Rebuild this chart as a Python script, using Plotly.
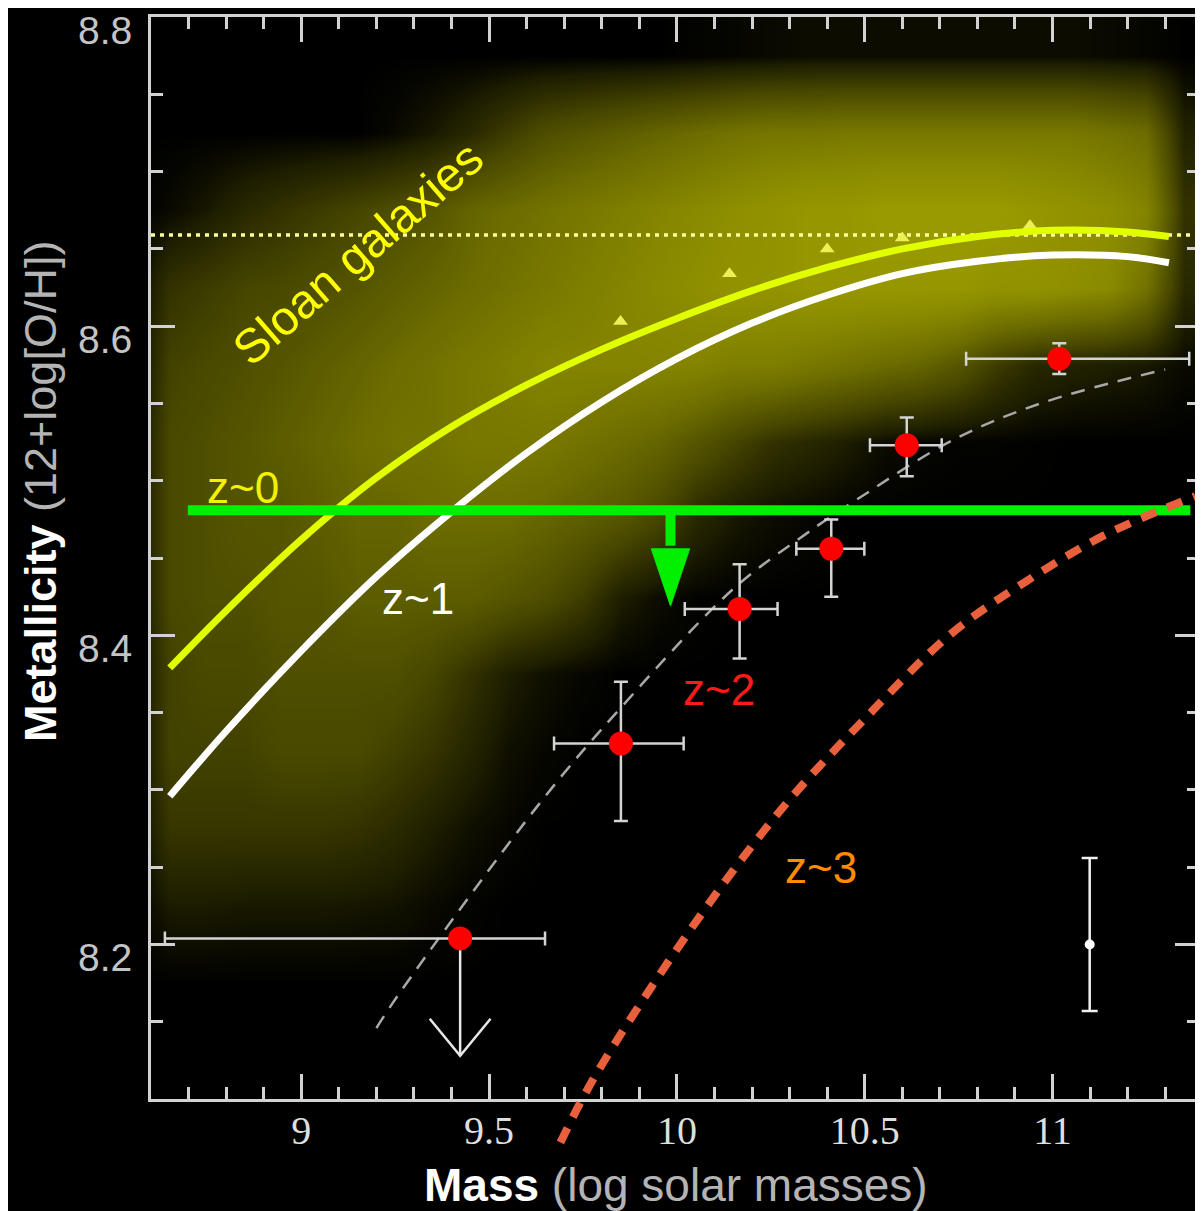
import plotly.graph_objects as go

# ---------------- page / figure geometry (page pixels) ----------------
PAGE_W, PAGE_H = 1203, 1211
PAGE_MARGIN = 8                      # default <body> margin of the html page
FIG_W, FIG_H = PAGE_W - PAGE_MARGIN, PAGE_H - PAGE_MARGIN
PLOT_LEFT, PLOT_RIGHT, PLOT_TOP, PLOT_BOTTOM = 151, 1202, 14, 1099
PAPER_BOTTOM = 1161                  # extended paper (lets the z~3 curve run below the frame)
ML = PLOT_LEFT - PAGE_MARGIN
MT = PLOT_TOP - PAGE_MARGIN
MR = PAGE_W - PLOT_RIGHT
MB = PAGE_H - PAPER_BOTTOM

X_RANGE = [8.6, 11.39]
Y_RANGE = [8.1, 8.8]

# ---------------- data ----------------
# SDSS (Sloan) galaxy cloud: relative point density (0-10)
sdss_mass_bins = [8.55, 8.65, 8.75, 8.85, 8.95, 9.05, 9.15, 9.25, 9.35, 9.45, 9.55,
                  9.65, 9.75, 9.85, 9.95, 10.05, 10.15, 10.25, 10.35, 10.45, 10.55,
                  10.65, 10.75, 10.85, 10.95, 11.05, 11.15, 11.25, 11.35]
sdss_met_bins = [8.125, 8.175, 8.225, 8.275, 8.325, 8.375, 8.425,
                 8.475, 8.525, 8.575, 8.625, 8.675, 8.725, 8.775]
sdss_density = [
    [0, 0, 0, 0, 0, 0, 0, 0, 0, 0, 0, 0, 0, 0, 0, 0, 0, 0, 0, 0, 0, 0, 0, 0, 0, 0, 0, 0, 0],
    [0, 0, 0, 0, 0, 0, 0, 0, 0, 0, 0, 0, 0, 0, 0, 0, 0, 0, 0, 0, 0, 0, 0, 0, 0, 0, 0, 0, 0],
    [0, 0.9, 0.9, 0.8, 0.8, 0.8, 0.7, 0.6, 0.3, 0.1, 0, 0, 0, 0, 0, 0, 0, 0, 0, 0, 0, 0, 0, 0, 0, 0, 0, 0, 0],
    [0, 2.2, 2.2, 2.2, 2.2, 2.2, 2, 1.6, 1, 0.5, 0.2, 0, 0, 0, 0, 0, 0, 0, 0, 0, 0, 0, 0, 0, 0, 0, 0, 0, 0],
    [0, 2.8, 2.8, 2.8, 3.2, 3.2, 3.2, 2.7, 2.1, 1.3, 0.5, 0.2, 0, 0, 0, 0, 0, 0, 0, 0, 0, 0, 0, 0, 0, 0, 0, 0, 0],
    [0, 2.8, 3.2, 3.2, 3.6, 3.6, 3.6, 3.6, 3, 2, 1, 0.5, 0.2, 0, 0, 0, 0, 0, 0, 0, 0, 0, 0, 0, 0, 0, 0, 0, 0],
    [0, 3.2, 3.6, 3.6, 4, 4, 4.5, 4.5, 4.5, 4.5, 4, 3.5, 2.5, 1, 0.4, 0.1, 0, 0, 0, 0, 0, 0, 0, 0, 0, 0, 0, 0, 0],
    [0, 3.2, 3.6, 4, 4, 4.5, 5, 5, 5.5, 5.5, 5.5, 5, 4.5, 4, 3, 1.5, 0.8, 0.4, 0.2, 0, 0, 0, 0, 0, 0, 0, 0, 0, 0],
    [0, 3.2, 3.6, 4, 4.5, 5, 5.5, 6, 6, 6.5, 6.5, 6.5, 6, 5.5, 5, 4, 3, 2, 1.5, 1, 0.4, 0.2, 0.1, 0.1, 0.05, 0, 0, 0, 0],
    [0, 2.8, 3.2, 3.6, 4, 4.5, 5, 5.5, 6, 6.5, 7, 7.5, 7.5, 7.5, 7.5, 7.5, 7, 7, 6.5, 6, 5.5, 5, 4, 2.5, 1.5, 1.2, 1, 0.8, 0.3],
    [0, 2, 2.5, 3, 3.2, 3.6, 4, 4.5, 5, 5.5, 6, 6.5, 7, 7.5, 8, 8.5, 9, 9, 9.5, 9.5, 9.5, 9.5, 9.5, 9, 9, 8.5, 8, 6, 1.5],
    [0, 0.3, 0.8, 1.5, 2, 2.5, 3, 3.5, 4, 5, 5.5, 6, 6.5, 7, 7.5, 8, 8.5, 9, 9.5, 9.5, 10, 10, 10, 10, 9.5, 9, 8.5, 7.5, 2],
    [0, 0, 0, 0, 0, 0, 0, 0.3, 0.8, 1.5, 2.5, 3.5, 4, 4.5, 5, 5.5, 6, 6.3, 6.3, 6.5, 6.5, 6.5, 6.5, 6.5, 6.5, 6.5, 6, 5.5, 1.2],
    [0, 0, 0, 0, 0, 0, 0, 0, 0, 0, 0, 0, 0, 0, 0, 0.1, 0.2, 0.3, 0.4, 0.4, 0.4, 0.4, 0.4, 0.4, 0.4, 0.4, 0.3, 0.2, 0],
]

# SDSS binned medians (small triangles) and the solar reference (dotted line)
sdss_median_mass = [9.85, 10.14, 10.40, 10.60, 10.94]
sdss_median_met = [8.603, 8.634, 8.650, 8.657, 8.665]
solar_met = 8.659

# z~0 and z~1 relations
z0_mass = [8.65, 8.80, 9.00, 9.20, 9.40, 9.60, 9.80, 10.00, 10.20, 10.40, 10.60, 10.80, 11.00, 11.20, 11.31]
z0_met = [8.379, 8.416, 8.462, 8.502, 8.535, 8.562, 8.585, 8.605, 8.623, 8.638, 8.650, 8.658, 8.662, 8.661, 8.658]
z1_mass = [8.65, 8.80, 9.00, 9.20, 9.40, 9.60, 9.80, 10.00, 10.20, 10.40, 10.60, 10.80, 11.00, 11.20, 11.31]
z1_met = [8.296, 8.338, 8.390, 8.438, 8.480, 8.518, 8.551, 8.579, 8.602, 8.620, 8.634, 8.642, 8.646, 8.645, 8.641]

# z~2 fit (grey dashed) and z~3 relation (orange dashed)
z2fit_mass = [9.20, 9.26, 9.64, 9.85, 10.15, 10.34, 10.48, 10.74, 10.98, 11.30]
z2fit_met = [8.146, 8.168, 8.293, 8.353, 8.430, 8.465, 8.488, 8.527, 8.551, 8.572]
z3_mass = [9.69, 9.78, 10.04, 10.28, 10.50, 10.73, 10.93, 11.14, 11.38]
z3_met = [8.072, 8.114, 8.211, 8.288, 8.346, 8.401, 8.435, 8.465, 8.490]

# z~2 stacked measurements (red)
z2_mass = [9.423, 9.851, 10.167, 10.411, 10.612, 11.018]
z2_met = [8.204, 8.330, 8.417, 8.456, 8.523, 8.579]
z2_mass_err_lo = [0.786, 0.178, 0.146, 0.093, 0.098, 0.248]
z2_mass_err_hi = [0.226, 0.167, 0.101, 0.088, 0.093, 0.346]
z2_met_err_lo = [0.0, 0.050, 0.032, 0.031, 0.020, 0.010]
z2_met_err_hi = [0.0, 0.040, 0.029, 0.019, 0.018, 0.010]
# upper limit on the lowest-mass bin
z2_limit_mass = 9.423
z2_limit_from = 8.204
z2_limit_to = 8.128

# typical error bar (white)
typ_mass = [11.099]
typ_met = [8.200]
typ_err_hi = [0.056]
typ_err_lo = [0.043]

# green upper-limit line with arrow
green_met = 8.481
green_mass_span = [8.698, 11.367]
green_arrow_mass = 9.983
green_arrow_tip = 8.419

# axis ticks
x_tick_vals = [9, 9.5, 10, 10.5, 11]
x_tick_text = ["9", "9.5", "10", "10.5", "11"]
y_tick_vals = [8.2, 8.4, 8.6, 8.8]
y_tick_text = ["8.2", "8.4", "8.6", "8.8"]

# ---------------- styles ----------------
FRAME = "#d2d2d2"
GREEN = "#00f000"
SANS = "Liberation Sans, Arial, sans-serif"
SERIF = "Liberation Serif, Times New Roman, serif"
GREEN_HEAD_HALF_W = 0.051   # mass units
GREEN_HEAD_LEN = 0.037      # metallicity units
V_HEAD_HALF_W = 0.081
V_HEAD_LEN = 0.024

paper_h = PAPER_BOTTOM - PLOT_TOP
y_dom0 = (PAPER_BOTTOM - PLOT_BOTTOM) / paper_h
y2_lo = Y_RANGE[0] - (Y_RANGE[1] - Y_RANGE[0]) * y_dom0 / (1 - y_dom0)


def px_to_paper_x(px):
    return (px - PLOT_LEFT) / (PLOT_RIGHT - PLOT_LEFT)


def px_to_paper_y(py):
    return (PAPER_BOTTOM - py) / paper_h


fig = go.Figure()

fig.add_trace(go.Heatmap(
    x=sdss_mass_bins, y=sdss_met_bins, z=sdss_density,
    zmin=0, zmax=10, zsmooth="best", showscale=False, hoverinfo="skip",
    colorscale=[[0.0, "#000000"], [0.1, "#1e1e00"], [0.3, "#464600"],
                [0.55, "#6c6c00"], [0.8, "#8a8a00"], [1.0, "#9a9a00"]],
))

fig.add_trace(go.Scatter(
    x=X_RANGE, y=[solar_met, solar_met], mode="lines",
    line=dict(color="#ffff99", width=3.5, dash="4px,5px"), hoverinfo="skip"))

fig.add_trace(go.Scatter(
    x=sdss_median_mass, y=sdss_median_met, mode="markers",
    marker=dict(symbol="triangle-up", size=13, color="#eeee55"), hoverinfo="skip"))

fig.add_trace(go.Scatter(
    x=z0_mass, y=z0_met, mode="lines", line=dict(color="#e2ff00", width=7, shape="spline")))
fig.add_trace(go.Scatter(
    x=z1_mass, y=z1_met, mode="lines", line=dict(color="#ffffff", width=7, shape="spline")))
fig.add_trace(go.Scatter(
    x=z2fit_mass, y=z2fit_met, mode="lines",
    line=dict(color="#a8a8a8", width=2.5, dash="14px,10px", shape="spline")))

# green limit line and arrow
fig.add_trace(go.Scatter(
    x=green_mass_span, y=[green_met, green_met], mode="lines",
    line=dict(color=GREEN, width=10)))
head_base = green_arrow_tip + GREEN_HEAD_LEN
fig.add_trace(go.Scatter(
    x=[green_arrow_mass, green_arrow_mass], y=[green_met, head_base + 0.002], mode="lines",
    line=dict(color=GREEN, width=10)))
fig.add_trace(go.Scatter(
    x=[green_arrow_mass - GREEN_HEAD_HALF_W, green_arrow_mass + GREEN_HEAD_HALF_W, green_arrow_mass,
       green_arrow_mass - GREEN_HEAD_HALF_W],
    y=[head_base, head_base, green_arrow_tip, head_base],
    mode="lines", fill="toself", fillcolor=GREEN, line=dict(color=GREEN, width=1)))

# upper-limit arrow for lowest-mass z~2 point
fig.add_trace(go.Scatter(
    x=[z2_limit_mass, z2_limit_mass, None,
       z2_limit_mass - V_HEAD_HALF_W, z2_limit_mass, z2_limit_mass + V_HEAD_HALF_W],
    y=[z2_limit_from, z2_limit_to, None,
       z2_limit_to + V_HEAD_LEN, z2_limit_to, z2_limit_to + V_HEAD_LEN],
    mode="lines", line=dict(color="#e6e6e6", width=2.5)))

# z~2 points
fig.add_trace(go.Scatter(
    x=z2_mass, y=z2_met, mode="markers",
    marker=dict(color="#ff0000", size=24),
    error_x=dict(type="data", symmetric=False, array=z2_mass_err_hi, arrayminus=z2_mass_err_lo,
                 color="#d4d4d4", thickness=2.5, width=7),
    error_y=dict(type="data", symmetric=False, array=z2_met_err_hi, arrayminus=z2_met_err_lo,
                 color="#d4d4d4", thickness=2.5, width=7)))

# typical error
fig.add_trace(go.Scatter(
    x=typ_mass, y=typ_met, mode="markers", marker=dict(color="#ffffff", size=10),
    error_y=dict(type="data", symmetric=False, array=typ_err_hi, arrayminus=typ_err_lo,
                 color="#f0f0f0", thickness=2.5, width=8)))

# z~3 relation on an extended (invisible) y axis so it can run below the frame
fig.add_trace(go.Scatter(
    x=z3_mass, y=z3_met, mode="lines", xaxis="x", yaxis="y2",
    line=dict(color="#e8603c", width=8, dash="16px,12px", shape="spline")))

axis_common = dict(
    showline=True, linecolor=FRAME, linewidth=3, mirror="ticks",
    ticks="inside", tickcolor=FRAME, tickwidth=3,
    showgrid=False, zeroline=False,
)

fig.update_layout(
    width=FIG_W, height=FIG_H,
    margin=dict(l=ML, r=MR, t=MT, b=MB, pad=0),
    paper_bgcolor="#000000", plot_bgcolor="rgba(0,0,0,0)",
    showlegend=False,
    xaxis=dict(range=X_RANGE, domain=[0, 1], anchor="y",
               tickmode="array", tickvals=x_tick_vals, ticktext=x_tick_text, ticklen=25,
               tickfont=dict(family=SERIF, size=40, color="#dedede"),
               ticklabelstandoff=-6,
               minor=dict(dtick=0.1, tick0=9, ticks="inside", ticklen=12, tickwidth=3,
                          tickcolor=FRAME, showgrid=False),
               **axis_common),
    yaxis=dict(range=Y_RANGE, domain=[y_dom0, 1], anchor="x",
               tickmode="array", tickvals=y_tick_vals, ticktext=y_tick_text, ticklen=24,
               tickfont=dict(family=SANS, size=39, color="#c4c4c4"),
               ticklabelposition="outside", ticklabelstandoff=8, ticklabelshift=13,
               ticklabeloverflow="allow",
               minor=dict(dtick=0.05, tick0=8.1, ticks="inside", ticklen=12, tickwidth=3,
                          tickcolor=FRAME, showgrid=False),
               **axis_common),
    yaxis2=dict(range=[y2_lo, Y_RANGE[1]], domain=[0, 1], anchor="x", visible=False),
)

annots = [
    dict(text="<b>Mass</b> <span style='color:#b4b4b4'>(log solar masses)</span>",
         x=px_to_paper_x(678), y=px_to_paper_y(1185), xref="paper", yref="paper",
         font=dict(family=SANS, size=46, color="#ffffff")),
    dict(text="<b>Metallicity</b> <span style='color:#b4b4b4'>(12+log[O/H])</span>",
         x=px_to_paper_x(40), y=px_to_paper_y(490), xref="paper", yref="paper", textangle=-90,
         font=dict(family=SANS, size=45, color="#ffffff")),
    dict(text="z~0", x=8.844, y=8.4955, xref="x", yref="y",
         font=dict(family=SANS, size=44, color="#f2f200")),
    dict(text="z~1", x=9.311, y=8.424, xref="x", yref="y",
         font=dict(family=SANS, size=44, color="#ffffff")),
    dict(text="z~2", x=10.111, y=8.365, xref="x", yref="y",
         font=dict(family=SANS, size=44, color="#ff1a1a")),
    dict(text="z~3", x=10.384, y=8.250, xref="x", yref="y",
         font=dict(family=SANS, size=44, color="#ff8c00")),
    dict(text="Sloan galaxies", x=9.150, y=8.647, xref="x", yref="y", textangle=-41,
         font=dict(family=SANS, size=48, color="#ffff00")),
]
for a in annots:
    a.update(showarrow=False, xanchor="center", yanchor="middle")
    fig.add_annotation(**a)

fig.write_html("out.html")
